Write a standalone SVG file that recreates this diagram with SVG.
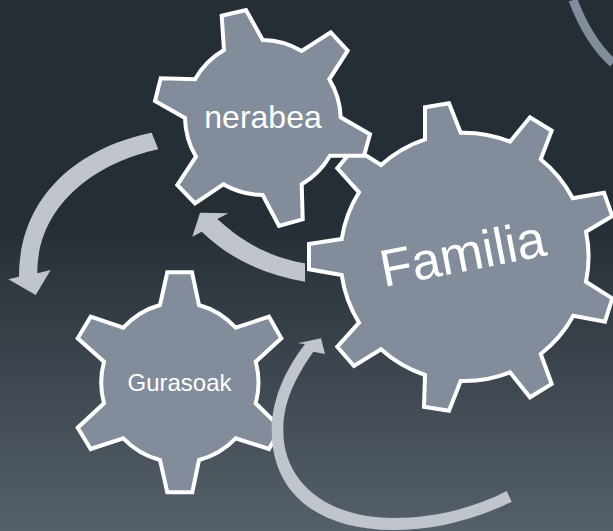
<svg xmlns="http://www.w3.org/2000/svg" width="613" height="531" viewBox="0 0 613 531">
<style>
.gear{fill:#838c9b;stroke:#fff;stroke-width:4;stroke-linejoin:miter}
.arrow{fill:#c0c4cd}
.t{fill:#fff;font-family:"Liberation Sans",Arial,sans-serif;text-anchor:middle}
</style>
<defs><linearGradient id="bg" x1="0" y1="0" x2="0" y2="1"><stop offset="0" stop-color="#262e35"/><stop offset="0.42" stop-color="#262e35"/><stop offset="1" stop-color="#566069"/></linearGradient></defs>
<rect width="613" height="531" fill="url(#bg)"/>
<path d="M573,0 Q589,42 613,63" fill="none" stroke="#838c9b" stroke-width="9"/>
<g id="familia">
<path class="gear" d="M425,107.3 L449,103.3 L460.7,132.7 A124,124 0 0 1 510,141.7 L530,117.3 L551.7,130.7 L540.7,159.3 A124,124 0 0 1 572.7,198.3 L604,192.7 L612.3,216 L586,231.7 A124,124 0 0 1 586,281.7 L612.3,298.3 L605,321.7 L573.3,315.7 A124,124 0 0 1 540.7,354 L551.7,384 L530,397.3 L510,372.3 A124,124 0 0 1 460.7,381 L449,410.7 L424,406.7 L425,375 A124,124 0 0 1 381,349.3 L354,366 L337.3,346.7 L359,322.7 A124,124 0 0 1 341.7,275 L309,269.3 L309,244 L341.7,239 A124,124 0 0 1 359,192.3 L337.3,168.3 L354,148 L381,165 A124,124 0 0 1 425,139.3Z"/>
<text class="t" font-size="52" transform="translate(466,271) rotate(-11)">Familia</text>
</g>
<g id="nerabea">
<path class="gear" d="M221.7,15.7 L246,10 L262.7,40 A78,78 0 0 1 301.7,51 L330.7,32.3 L347.7,50.7 L329.3,79.3 A78,78 0 0 1 340.7,117.3 L370,134.3 L364,155.7 L330,155.7 A78,78 0 0 1 301.7,184.3 L302.7,219.3 L279,226 L262.7,195 A78,78 0 0 1 223.3,184.3 L195,203.3 L177.3,185 L196,156.7 A78,78 0 0 1 185,118 L155,101 L160.7,78.3 L195,79.3 A78,78 0 0 1 224,50Z"/>
<text class="t" font-size="32" x="263" y="127.5">nerabea</text>
</g>
<g id="gurasoak">
<path class="gear" d="M167.3,272.3 L192,272.3 L199,305 A79,79 0 0 1 235.7,327.7 L269,316.7 L281.3,338.3 L255.7,361.7 A79,79 0 0 1 255.7,403.3 L281,428 L269,449 L235.7,438.3 A79,79 0 0 1 199,460 L192.3,492.3 L167.3,492.3 L160,460 A79,79 0 0 1 123.3,438.3 L90.7,449 L77.7,427.7 L104,403.3 A79,79 0 0 1 104,361.7 L77.7,338.3 L90.7,316.7 L123.3,327.7 A79,79 0 0 1 160,305Z"/>
<text class="t" font-size="24" x="179.5" y="390.5">Gurasoak</text>
</g>
<g id="connectors">
<path class="arrow" d="M151.7,132.7 L158.3,149.3 C95,163 37.3,205 37.3,273.3 L50.7,270 L35.7,295 L8.3,279.3 L19,276.7 C19,195 80,147 151.7,132.7Z"/>
<path class="arrow" d="M305,263.3 L305,281.7 C262,274 229,258 201.7,231.7 L192.3,236.7 L200,212.7 L228.3,213.3 L217.3,219 C243,243 272,258 305,263.3Z"/>
<path class="arrow" d="M506.7,491 L511.7,501.7 C470,522 430,530 393.3,530 C320,530 271.7,495 271.7,430 C271.7,400 285,370 305,344 L297.7,343.3 L321,338.3 L325,354 L313.3,351.7 C295,378 283.3,402 283.3,430 C283.3,485 330,518 393.3,518 C430,518 470,510 506.7,491Z"/>
</g>
</svg>
